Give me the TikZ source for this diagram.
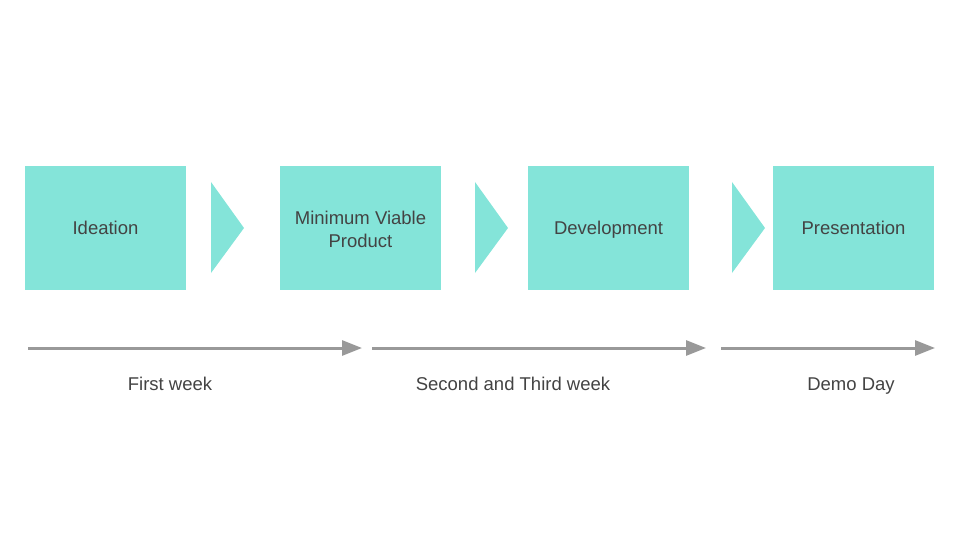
\documentclass[tikz,border=0pt]{standalone}
\usepackage{fontspec}
\setmainfont{Liberation Sans}
\usetikzlibrary{arrows.meta}
\definecolor{teal}{HTML}{84E4D9}
\definecolor{arrgray}{HTML}{999999}
\definecolor{txt}{HTML}{434343}
\newcommand\lowstrut{\rule[-6pt]{0pt}{24pt}}
\newcommand\mvpstrut{\rule[-6pt]{0pt}{28pt}}
\newcommand\plainstrut{\rule[-6pt]{0pt}{16pt}}
\begin{document}
\begin{tikzpicture}[x=1pt,y=-1pt,
  stagebox/.style={draw=none,fill=teal,minimum width=161pt,minimum height=124pt,inner sep=0pt,text=txt,font=\fontsize{18.5}{23}\selectfont,align=center},
  chev/.style={fill=teal,draw=none},
  timeline/.style={draw=arrgray,line width=3pt,-{Triangle[length=20pt,width=15pt]}},
  lbl/.style={text=txt,font=\fontsize{18.5}{22}\selectfont,anchor=base}]
\useasboundingbox (0,0) rectangle (960,540);
\node[stagebox] (ideation) at (105.5,228) {\lowstrut Ideation};
\node[stagebox] (mvp) at (360.5,228) {\mvpstrut Minimum Viable\\\plainstrut Product};
\node[stagebox] (dev) at (608.5,228) {\lowstrut Development};
\node[stagebox] (pres) at (853.5,228) {\lowstrut Presentation};
\fill[chev] (211,182) -- (244,228) -- (211,273) -- cycle;
\fill[chev] (475,182) -- (508,228) -- (475,273) -- cycle;
\fill[chev] (732,182) -- (765,228) -- (732,273) -- cycle;
\coordinate (a1s) at (28,348); \coordinate (a1e) at (362,348);
\coordinate (a2s) at (372,348); \coordinate (a2e) at (706,348);
\coordinate (a3s) at (721,348); \coordinate (a3e) at (935,348);
\draw[timeline] (a1s) -- (a1e);
\draw[timeline] (a2s) -- (a2e);
\draw[timeline] (a3s) -- (a3e);
\node[lbl] (w1) at (170,390) {First week};
\node[lbl] (w23) at (513,390) {Second and Third week};
\node[lbl] (demo) at (851,390) {Demo Day};
\end{tikzpicture}
\end{document}
